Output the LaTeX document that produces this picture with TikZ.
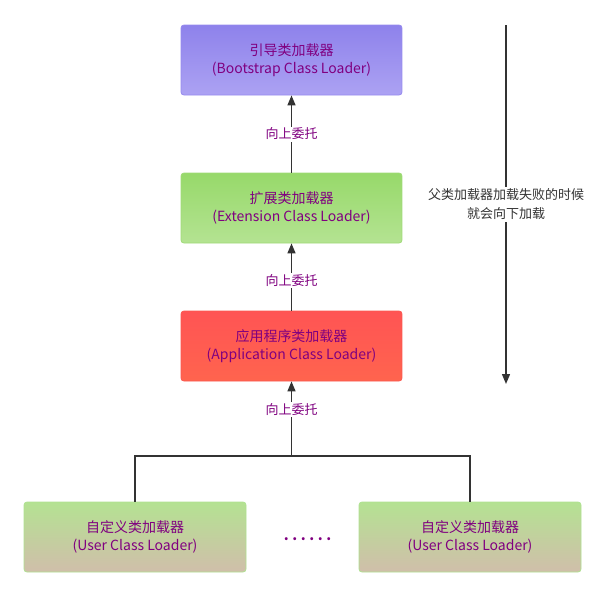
\documentclass[tikz,border=0pt]{standalone}
\usepackage{fontspec}
\setmainfont{Noto Sans CJK SC}
\usetikzlibrary{arrows.meta}
\definecolor{txtpurple}{RGB}{128,0,128}
\definecolor{linegray}{RGB}{51,51,51}
\begin{document}
\begin{tikzpicture}[x=1pt,y=-1pt,
  box/.style={rounded corners=3pt, minimum width=221pt, minimum height=70pt, inner sep=0pt,
    align=center, text=txtpurple, font=\fontsize{14}{18}\selectfont, line width=0.8pt},
  boot/.style={box, draw={rgb,255:red,150;green,138;blue,238}, top color={rgb,255:red,142;green,130;blue,235}, bottom color={rgb,255:red,172;green,162;blue,243}},
  ext/.style={box, draw={rgb,255:red,160;green,218;blue,120}, top color={rgb,255:red,151;green,217;blue,106}, bottom color={rgb,255:red,180;green,227;blue,146}},
  app/.style={box, draw={rgb,255:red,250;green,88;blue,80}, top color={rgb,255:red,255;green,84;blue,84}, bottom color={rgb,255:red,255;green,100;blue,78}},
  user/.style={box, minimum width=222pt, draw={rgb,255:red,175;green,225;blue,145}, top color={rgb,255:red,180;green,226;blue,146}, bottom color={rgb,255:red,208;green,190;blue,170}},
  arr/.style={draw=linegray, line width=1.4pt, -{Triangle[length=10pt,width=8pt]}},
  conn/.style={draw=linegray, line width=1.2pt},
  lbl/.style={fill=white, text=txtpurple, inner sep=1.5pt, font=\fontsize{13}{15}\selectfont},
  note/.style={fill=white, text=linegray, align=center, inner sep=2pt, font=\fontsize{13}{19}\selectfont}]
\useasboundingbox (0,0) rectangle (606,597);
\node[boot] (boot) at (291.5,60) {引导类加载器\\(Bootstrap Class Loader)};
\node[ext] (ext) at (291.5,208) {扩展类加载器\\(Extension Class Loader)};
\node[app] (app) at (291.5,346) {应用程序类加载器\\(Application Class Loader)};
\node[user] (u1) at (135,537) {自定义类加载器\\(User Class Loader)};
\node[user] (u2) at (470,537) {自定义类加载器\\(User Class Loader)};
\node[text=txtpurple, font=\fontsize{14}{14}\selectfont\bfseries] (dots) at (307.5,539) {.\kern3.6pt.\kern3.6pt.\kern3.6pt.\kern3.6pt.\kern3.6pt.};
\coordinate (j) at (291.5,456);
\draw[conn] (u1.north) |- (j);
\draw[conn] (u2.north) |- (j);
\draw[arr] (j) -- node[lbl, pos=0.62] (l3) {向上委托} (app.south);
\draw[arr] (app.north) -- node[lbl, pos=0.45] (l2) {向上委托} (ext.south);
\draw[arr] (ext.north) -- node[lbl, pos=0.5] (l1) {向上委托} (boot.south);
\coordinate (rtop) at (506,25);
\coordinate (rbot) at (506,384);
\draw[arr] (rtop) -- node[note, pos=0.5] (n) {父类加载器加载失败的时候\\就会向下加载} (rbot);
\end{tikzpicture}
\end{document}
